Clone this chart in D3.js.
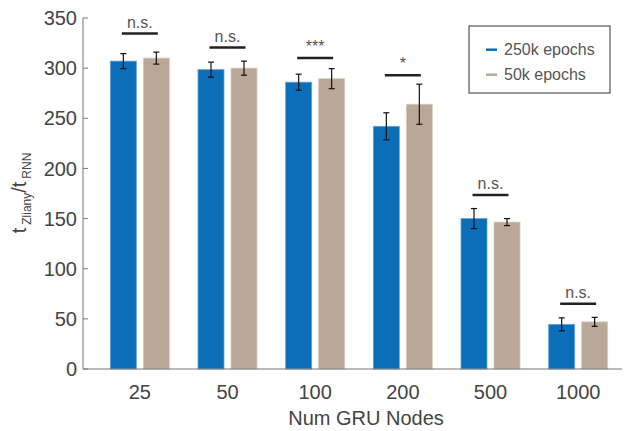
<!DOCTYPE html>
<html>
<head>
<meta charset="utf-8">
<script src="https://cdn.jsdelivr.net/npm/d3@7"></script>
<style>
  body { margin: 0; background: #fff; }
  svg { font-family: "Liberation Sans", Arial, Helvetica, sans-serif; }
  .tick-label { fill: #444; font-size: 20px; }
</style>
</head>
<body>
<svg width="629" height="431"></svg>
<script>
/* --------------- Datos --------------- */
const nodos = ["25", "50", "100", "200", "500", "1000"];
const series = ["250k epochs", "50k epochs"];
const media250 = [307, 298.5, 286, 242, 150, 44.5];
const error250 = [7.5, 7.5, 8, 13.5, 10, 6.5];
const media50 = [310, 300, 289.5, 264, 146.5, 47];
const error50 = [6, 7, 10, 20, 3.5, 4.5];
const signif = ["n.s.", "n.s.", "***", "*", "n.s.", "n.s."];
const signifY = [334.5, 320.5, 310, 293, 173.5, 65];
const yTicks = [0, 50, 100, 150, 200, 250, 300, 350];

const colores = { "250k epochs": "#0b6eb8", "50k epochs": "#b9a897" };
const bordes = { "250k epochs": "#5fa3dc", "50k epochs": "#d6cbbf" };

/* --------------- Grafica --------------- */
function graficaBarras() {
    const svg = d3.select("svg");

    const x = d3.scaleBand().domain(nodos).range([96, 622]);
    const xs = d3.scaleBand().domain(series).range([-29.5, 29.5]).paddingInner(0.212);
    const y = d3.scaleLinear().domain([0, 350]).range([369, 18]);

    const datos = nodos.map((n, i) => ({
        nodo: n,
        valores: [
            { serie: series[0], m: media250[i], e: error250[i] },
            { serie: series[1], m: media50[i], e: error50[i] }
        ],
        sig: signif[i],
        sigY: signifY[i]
    }));

    const grupo = svg.selectAll(".grupo")
        .data(datos)
        .enter().append("g")
        .attr("class", "grupo")
        .attr("transform", d => `translate(${x(d.nodo) + x.bandwidth() / 2},0)`);

    // barras
    grupo.selectAll("rect")
        .data(d => d.valores)
        .enter().append("rect")
        .attr("x", d => xs(d.serie))
        .attr("width", xs.bandwidth())
        .attr("y", d => y(d.m))
        .attr("height", d => y(0) - y(d.m))
        .attr("fill", d => colores[d.serie])
        .attr("stroke", d => bordes[d.serie])
        .attr("stroke-width", 0.8);

    // barras de error
    const err = grupo.selectAll(".err")
        .data(d => d.valores)
        .enter().append("g")
        .attr("class", "err")
        .attr("transform", d => `translate(${xs(d.serie) + xs.bandwidth() / 2},0)`)
        .attr("stroke", "#111")
        .attr("stroke-width", 1.2);
    err.append("line")
        .attr("y1", d => y(d.m - d.e)).attr("y2", d => y(d.m + d.e));
    err.append("line")
        .attr("x1", -3).attr("x2", 3)
        .attr("y1", d => y(d.m + d.e)).attr("y2", d => y(d.m + d.e));
    err.append("line")
        .attr("x1", -3).attr("x2", 3)
        .attr("y1", d => y(d.m - d.e)).attr("y2", d => y(d.m - d.e));

    // lineas de significancia
    grupo.append("line")
        .attr("x1", -18).attr("x2", 18)
        .attr("y1", d => y(d.sigY)).attr("y2", d => y(d.sigY))
        .attr("stroke", "#222")
        .attr("stroke-width", 2.5);
    grupo.append("text")
        .attr("text-anchor", "middle")
        .attr("y", d => y(d.sigY) - 6)
        .attr("font-size", "16px")
        .attr("fill", "#555")
        .text(d => d.sig);

    // ejes
    svg.append("line")
        .attr("x1", 83).attr("x2", 83).attr("y1", y(350)).attr("y2", y(0))
        .attr("stroke", "#777");
    svg.append("line")
        .attr("x1", 83).attr("x2", 622).attr("y1", y(0)).attr("y2", y(0))
        .attr("stroke", "#777");

    svg.selectAll(".ytick")
        .data(yTicks)
        .enter().append("line")
        .attr("class", "ytick")
        .attr("x1", 83).attr("x2", 88)
        .attr("y1", d => y(d)).attr("y2", d => y(d))
        .attr("stroke", "#777");

    svg.selectAll(".ylabel")
        .data(yTicks)
        .enter().append("text")
        .attr("class", "tick-label")
        .attr("text-anchor", "end")
        .attr("x", 77)
        .attr("y", d => y(d))
        .attr("dy", "0.36em")
        .text(d => d);

    svg.selectAll(".xlabel")
        .data(nodos)
        .enter().append("text")
        .attr("class", "tick-label")
        .attr("text-anchor", "middle")
        .attr("x", d => x(d) + x.bandwidth() / 2)
        .attr("y", 399)
        .text(d => d);

    // titulos
    svg.append("text")
        .attr("text-anchor", "middle")
        .attr("x", 366).attr("y", 425)
        .attr("font-size", "20px")
        .attr("fill", "#444")
        .text("Num GRU Nodes");

    const yt = svg.append("text")
        .attr("text-anchor", "middle")
        .attr("transform", "translate(26,193) rotate(-90)")
        .attr("font-size", "20px")
        .attr("fill", "#444");
    yt.append("tspan").text("t");
    yt.append("tspan").attr("font-size", "12px").attr("dx", 3).attr("dy", 5).text("Zliany");
    yt.append("tspan").attr("dy", -5).text("/t");
    yt.append("tspan").attr("font-size", "12px").attr("dx", 3).attr("dy", 5).text("RNN");

    // leyenda
    svg.append("rect")
        .attr("x", 469).attr("y", 26).attr("width", 141).attr("height", 67)
        .attr("fill", "#fff").attr("stroke", "#333");
    const leyenda = svg.selectAll(".leyenda")
        .data(series)
        .enter().append("g")
        .attr("class", "leyenda")
        .attr("transform", (d, i) => `translate(486,${49.7 + i * 25})`);
    leyenda.append("line")
        .attr("x1", 0).attr("x2", 11)
        .attr("stroke", d => colores[d])
        .attr("stroke-width", 2.5);
    leyenda.append("text")
        .attr("x", 18).attr("dy", "0.36em")
        .attr("font-size", "16px")
        .attr("fill", "#555")
        .text(d => d);
}

graficaBarras();
</script>
</body>
</html>
